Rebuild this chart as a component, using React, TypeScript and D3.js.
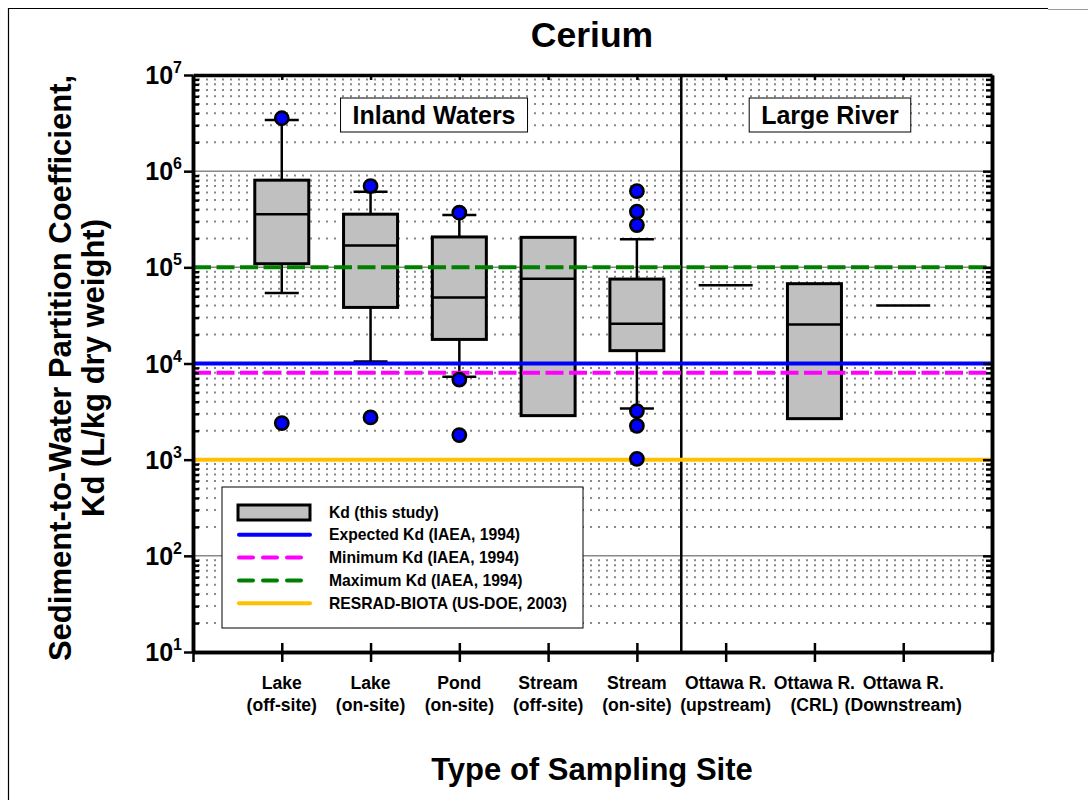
import { useEffect, useRef } from 'react';
import * as d3 from 'd3';

// categories (two-line tick labels)
const siteNames = ['Lake', 'Lake', 'Pond', 'Stream', 'Stream', 'Ottawa R.', 'Ottawa R.', 'Ottawa R.'];
const siteSubs = ['(off-site)', '(on-site)', '(on-site)', '(off-site)', '(on-site)', '(upstream)', '(CRL)', '(Downstream)'];

// box statistics, Kd in L/kg (null = not drawn)
const boxQ3 = [8.06e5, 3.57e5, 2.07e5, 2.05e5, 7.55e4, null, 6.76e4, null];
const boxMedian = [3.57e5, 1.69e5, 4.87e4, 7.6e4, 2.59e4, 6.5e4, 2.55e4, 4.0e4];
const boxQ1 = [1.09e5, 3.83e4, 1.78e4, 2.87e3, 1.36e4, null, 2.67e3, null];
const whiskerHigh = [3.4e6, 6.1e5, 3.5e5, null, 1.96e5, null, null, null];
const whiskerLow = [5.4e4, 1.05e4, 7.3e3, null, 3.4e3, null, null, null];
const outliers = [
  [3.55e6, 2.4e3],
  [7.0e5, 2.75e3],
  [3.7e5, 6.8e3, 1.8e3],
  [],
  [6.2e5, 3.8e5, 2.75e5, 3.2e3, 2.25e3, 1.02e3],
  [],
  [],
  [],
];

// reference Kd values
const refLabels = ['Expected Kd (IAEA, 1994)', 'Minimum Kd (IAEA, 1994)', 'Maximum Kd (IAEA, 1994)', 'RESRAD-BIOTA (US-DOE, 2003)'];
const refValues = [1e4, 8e3, 1e5, 1e3];
const refColors = ['#0000FF', '#FF00FF', '#008000', '#FFC000'];
const refDashed = [false, true, true, false];

const groupLabels = ['Inland Waters', 'Large River'];
const groupCenters = [2.715, 7.175];

const FONT = '"Liberation Sans", Arial, Helvetica, sans-serif';

export default function App() {
  const svgRef = useRef<SVGSVGElement>(null);

  useEffect(() => {
    if (!svgRef.current) return;
    const svg = d3.select(svgRef.current);
    svg.selectAll('*').remove();
    svg.attr('font-family', FONT).attr('font-weight', 'bold');

    const x0 = 193, x1 = 992, yTop = 75, yBot = 652;
    const x = d3.scaleLinear().domain([0, 9]).range([x0, x1]);
    const y = d3.scaleLog().domain([10, 1e7]).range([yBot, yTop]);

    const majors = d3.range(1, 8).map((e) => 10 ** e);
    const minors = d3.range(1, 7).flatMap((e) => d3.range(2, 10).map((m) => m * 10 ** e));

    // page frame
    svg.append('line').attr('x1', 8).attr('x2', 1048).attr('y1', 8.5).attr('y2', 8.5)
      .attr('stroke', '#000').attr('stroke-width', 1.2);
    svg.append('line').attr('x1', 1048).attr('x2', 1088).attr('y1', 9.5).attr('y2', 9.5)
      .attr('stroke', '#999').attr('stroke-width', 1.2);
    svg.append('line').attr('x1', 8.5).attr('x2', 8.5).attr('y1', 8).attr('y2', 800)
      .attr('stroke', '#000').attr('stroke-width', 1.2);

    const g = svg.append('g');

    // ── grid ──
    g.selectAll('.minor-grid').data(minors).join('line')
      .attr('x1', x0 + 5).attr('x2', x1)
      .attr('y1', (d) => y(d)).attr('y2', (d) => y(d))
      .attr('stroke', '#888').attr('stroke-width', 2)
      .attr('stroke-dasharray', '2,6');

    g.selectAll('.major-grid').data(majors.filter((d) => d > 10 && d < 1e7)).join('line')
      .attr('x1', x0).attr('x2', x1)
      .attr('y1', (d) => y(d)).attr('y2', (d) => y(d))
      .attr('stroke', '#888').attr('stroke-width', 1.5);

    // ── group label boxes ──
    groupLabels.forEach((lab, i) => {
      const t = g.append('text')
        .attr('x', x(groupCenters[i])).attr('y', 124)
        .attr('text-anchor', 'middle').attr('font-size', 25)
        .text(lab);
      const w = (t.node() as SVGTextElement).getComputedTextLength() + 24;
      g.insert('rect', () => t.node())
        .attr('x', x(groupCenters[i]) - w / 2).attr('y', 98)
        .attr('width', w).attr('height', 34)
        .attr('fill', '#fff').attr('stroke', '#000').attr('stroke-width', 1);
    });

    // divider between inland waters and large river
    g.append('line').attr('x1', x(5.5)).attr('x2', x(5.5)).attr('y1', yTop).attr('y2', yBot)
      .attr('stroke', '#000').attr('stroke-width', 2.5);

    // ── boxes ──
    const boxW = 54, capW = 34;
    boxMedian.forEach((med, i) => {
      const cx = x(i + 1);
      const q3 = boxQ3[i], q1 = boxQ1[i];
      const hi = whiskerHigh[i], lo = whiskerLow[i];
      if (hi != null && q3 != null) {
        g.append('line').attr('x1', cx).attr('x2', cx).attr('y1', y(q3)).attr('y2', y(hi))
          .attr('stroke', '#000').attr('stroke-width', 2.5);
        g.append('line').attr('x1', cx - capW / 2).attr('x2', cx + capW / 2).attr('y1', y(hi)).attr('y2', y(hi))
          .attr('stroke', '#000').attr('stroke-width', 2.5);
      }
      if (lo != null && q1 != null) {
        g.append('line').attr('x1', cx).attr('x2', cx).attr('y1', y(q1)).attr('y2', y(lo))
          .attr('stroke', '#000').attr('stroke-width', 2.5);
        g.append('line').attr('x1', cx - capW / 2).attr('x2', cx + capW / 2).attr('y1', y(lo)).attr('y2', y(lo))
          .attr('stroke', '#000').attr('stroke-width', 2.5);
      }
      if (q3 != null && q1 != null) {
        g.append('rect').attr('x', cx - boxW / 2).attr('y', y(q3))
          .attr('width', boxW).attr('height', y(q1) - y(q3))
          .attr('fill', '#C0C0C0').attr('stroke', '#000').attr('stroke-width', 3);
      }
      g.append('line').attr('x1', cx - boxW / 2).attr('x2', cx + boxW / 2).attr('y1', y(med)).attr('y2', y(med))
        .attr('stroke', '#000').attr('stroke-width', 2.5);
    });

    // ── reference lines ──
    refValues.forEach((v, i) => {
      g.append('line').attr('x1', x0).attr('x2', x1).attr('y1', y(v)).attr('y2', y(v))
        .attr('stroke', refColors[i]).attr('stroke-width', 4)
        .attr('stroke-dasharray', refDashed[i] ? '18,5.5' : null);
    });

    // ── outliers ──
    outliers.forEach((pts, i) => {
      g.selectAll(null).data(pts).join('circle')
        .attr('cx', x(i + 1)).attr('cy', (d) => y(d)).attr('r', 6.6)
        .attr('fill', '#0000FF').attr('stroke', '#000').attr('stroke-width', 2.6);
    });

    // ── axes ──
    const noLabel = () => '';
    const axes = svg.append('g');
    axes.append('g').attr('transform', `translate(${x0},0)`)
      .call(d3.axisLeft(y).tickValues(minors).tickSize(-6).tickSizeOuter(0).tickFormat(noLabel));
    axes.append('g').attr('transform', `translate(${x0},0)`)
      .call(d3.axisLeft(y).tickValues(majors).tickSize(9).tickSizeOuter(0).tickFormat(noLabel));
    axes.append('g').attr('transform', `translate(${x1},0)`)
      .call(d3.axisRight(y).tickValues(minors).tickSize(-6).tickSizeOuter(0).tickFormat(noLabel));
    axes.append('g').attr('transform', `translate(${x1},0)`)
      .call(d3.axisRight(y).tickValues(majors).tickSize(-9).tickSizeOuter(0).tickFormat(noLabel));
    axes.append('g').attr('transform', `translate(0,${yBot})`)
      .call(d3.axisBottom(x).tickValues(d3.range(0, 10)).tickSize(10).tickSizeOuter(0).tickFormat(noLabel));
    axes.append('g').attr('transform', `translate(0,${yBot})`)
      .call(d3.axisBottom(x).tickValues(d3.range(0, 10)).tickSize(-9).tickSizeOuter(0).tickFormat(noLabel));
    axes.append('g').attr('transform', `translate(0,${yTop})`)
      .call(d3.axisTop(x).tickValues(d3.range(1, 9)).tickSize(-5).tickSizeOuter(0).tickFormat(noLabel));
    axes.selectAll('.domain').attr('stroke', '#000').attr('stroke-width', 3.5);
    axes.selectAll('.tick line').attr('stroke', '#000').attr('stroke-width', 2.5);

    // y tick labels 10^n
    const yl = axes.selectAll('.ylab').data(majors).join('text')
      .attr('x', 182).attr('y', (d) => y(d) + 9)
      .attr('text-anchor', 'end').attr('fill', '#000');
    yl.append('tspan').attr('font-size', 25).text('10');
    yl.append('tspan').attr('font-size', 16).attr('dy', -11).text((d) => String(Math.round(Math.log10(d))));

    // x tick labels (two lines)
    const xl = axes.selectAll('.xlab').data(siteNames).join('text')
      .attr('text-anchor', 'middle').attr('font-size', 17.6).attr('fill', '#000');
    xl.append('tspan').attr('x', (_, i) => x(i + 1)).attr('y', 689).text((d) => d);
    xl.append('tspan').attr('x', (_, i) => x(i + 1)).attr('y', 711).text((_, i) => siteSubs[i]);

    // ── legend ──
    const lg = svg.append('g');
    lg.append('rect').attr('x', 222).attr('y', 487).attr('width', 361).attr('height', 141)
      .attr('fill', '#fff').attr('stroke', '#000').attr('stroke-width', 1);
    const rowY = (k: number) => 512 + k * 22.8;
    lg.append('rect').attr('x', 238).attr('y', rowY(0) - 7).attr('width', 72).attr('height', 15)
      .attr('fill', '#C0C0C0').attr('stroke', '#000').attr('stroke-width', 3);
    lg.append('text').attr('x', 329).attr('y', rowY(0) + 5.5).attr('font-size', 15.7).text('Kd (this study)');
    refLabels.forEach((lab, i) => {
      const ry = rowY(i + 1);
      lg.append('line').attr('x1', 239).attr('x2', 310).attr('y1', ry).attr('y2', ry)
        .attr('stroke', refColors[i]).attr('stroke-width', 4).attr('stroke-linecap', 'round')
        .attr('stroke-dasharray', refDashed[i] ? '14,10' : null);
      lg.append('text').attr('x', 329).attr('y', ry + 5.5).attr('font-size', 15.7).text(lab);
    });

    // ── titles ──
    svg.append('text').attr('x', 592).attr('y', 47).attr('text-anchor', 'middle')
      .attr('font-size', 35.5).text('Cerium');
    svg.append('text').attr('x', 592).attr('y', 780).attr('text-anchor', 'middle')
      .attr('font-size', 31).text('Type of Sampling Site');
    const yt = svg.append('text').attr('transform', 'translate(0,368) rotate(-90)')
      .attr('text-anchor', 'middle').attr('font-size', 31);
    yt.append('tspan').attr('x', 0).attr('y', 71).text('Sediment-to-Water Partition Coefficient,');
    yt.append('tspan').attr('x', 0).attr('y', 104).text('Kd (L/kg dry weight)');
  }, []);

  return (
    <div style={{ position: 'absolute', left: 0, top: 0 }}>
      <svg ref={svgRef} width={1088} height={800} />
    </div>
  );
}
